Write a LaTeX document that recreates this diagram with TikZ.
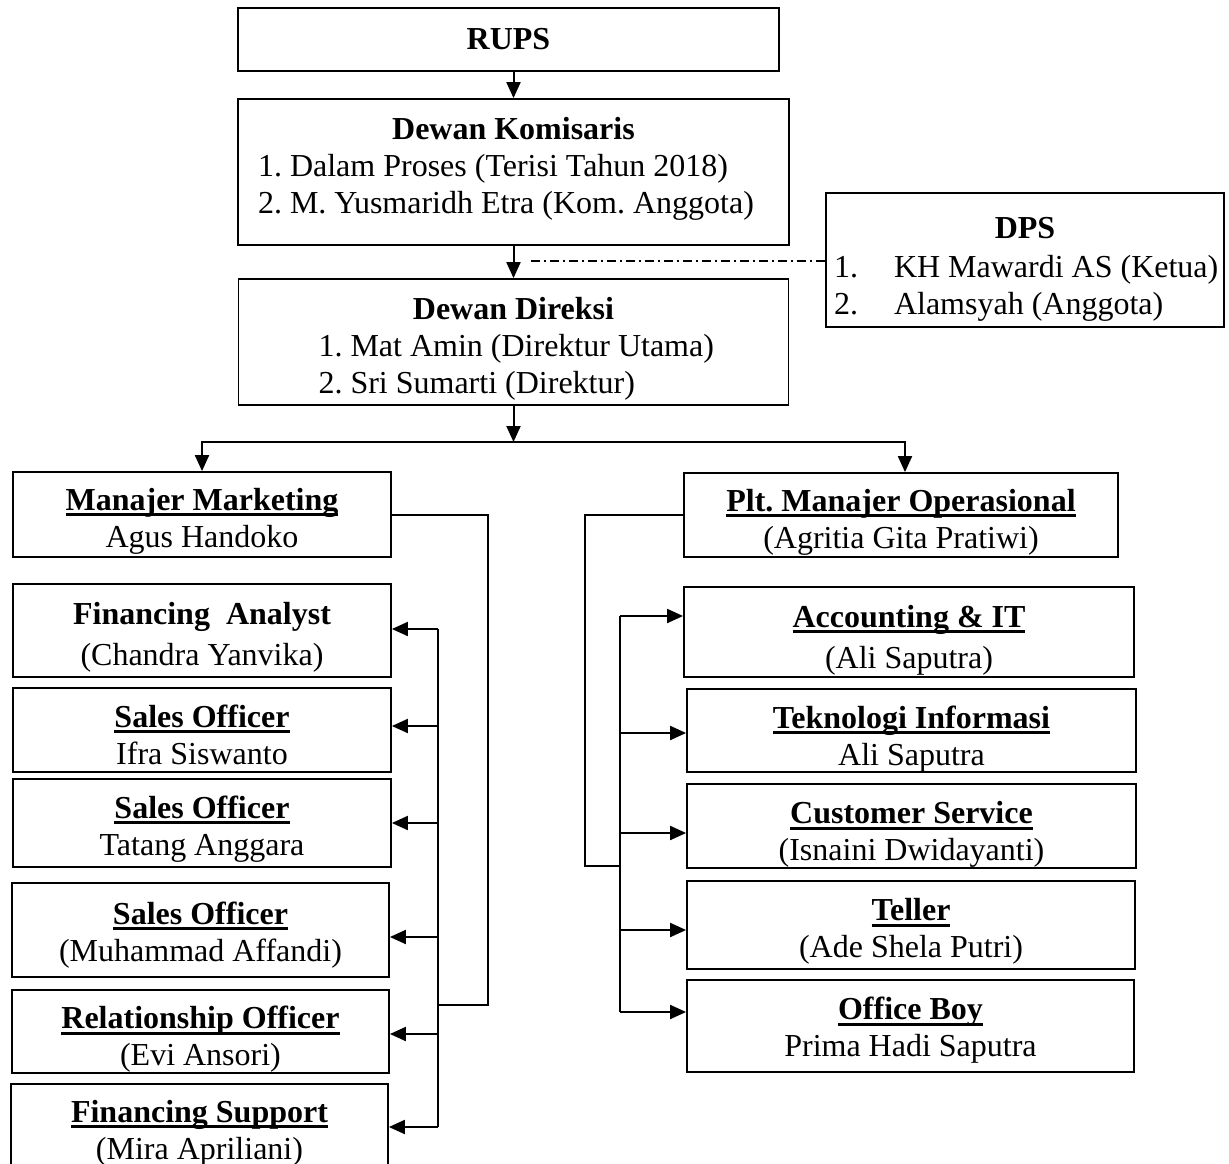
\documentclass[tikz,border=0pt]{standalone}
\usepackage{fontspec}
\setmainfont{Liberation Serif}
\usetikzlibrary{arrows.meta}
\frenchspacing

% garis bawah tebal untuk judul jabatan
\newcommand{\garis}[1]{{\setbox0=\hbox{#1}\rlap{\rule[-6pt]{\wd0}{2.6pt}}\box0}}

\tikzset{
  kotak/.style={draw, line width=1.8pt, inner sep=0pt, align=center,
    font=\fontsize{32}{37}\selectfont},
  dasar/.style={text height=#1, text depth=0pt},
  panah/.style={line width=2pt, -{Triangle[length=16pt,width=14pt]}},
  garisan/.style={line width=2pt},
  titiktitik/.style={line width=1.3pt, dash pattern=on 9pt off 4pt on 2pt off 4pt},
}

\begin{document}
\begin{tikzpicture}[x=1pt,y=-1pt]
  \useasboundingbox (0,0) rectangle (1229,1164);

  % pimpinan
  \node[kotak, dasar=19pt, minimum width=541pt, minimum height=63pt] (rups) at (508.5,39.5) {\textbf{RUPS}};
  \node[kotak, dasar=82pt, minimum width=551pt, minimum height=146pt] (kom) at (513.5,172)
    {\textbf{Dewan Komisaris}\\
     \makebox[511pt][l]{1. Dalam Proses (Terisi Tahun 2018)}\\
     \makebox[511pt][l]{2. M. Yusmaridh Etra (Kom. Anggota)}};
  \node[kotak, dasar=102pt, minimum width=550pt, minimum height=126pt] (dir) at (513.5,342)
    {\textbf{Dewan Direksi}\\
     \makebox[390pt][l]{1. Mat Amin (Direktur Utama)}\\
     \makebox[390pt][l]{2. Sri Sumarti (Direktur)}};
  \node[kotak, dasar=108pt, minimum width=398pt, minimum height=134pt] (dps) at (1025,260)
    {\textbf{DPS}\\[2pt]
     \makebox[382pt][l]{\makebox[60pt][l]{1.}KH Mawardi AS (Ketua)}\\
     \makebox[382pt][l]{\makebox[60pt][l]{2.}Alamsyah (Anggota)}};

  % bagian marketing
  \node[kotak, dasar=65pt, minimum width=378pt, minimum height=85pt] (mm) at (202,514.5)
    {\garis{\textbf{Manajer Marketing}}\\ Agus Handoko};
  \node[kotak, dasar=69pt, minimum width=378pt, minimum height=93pt] (fa) at (202,630.5)
    {\textbf{Financing\ \ Analyst}\\[4pt] (Chandra Yanvika)};
  \node[kotak, dasar=68pt, minimum width=378pt, minimum height=84pt] (so1) at (202,730)
    {\garis{\textbf{Sales Officer}}\\ Ifra Siswanto};
  \node[kotak, dasar=64pt, minimum width=378pt, minimum height=88pt] (so2) at (202,823)
    {\garis{\textbf{Sales Officer}}\\ Tatang Anggara};
  \node[kotak, dasar=62pt, minimum width=377pt, minimum height=94pt] (so3) at (200.5,930)
    {\garis{\textbf{Sales Officer}}\\ (Muhammad Affandi)};
  \node[kotak, dasar=68pt, minimum width=377pt, minimum height=83pt] (ro) at (200.5,1031.5)
    {\garis{\textbf{Relationship Officer}}\\ (Evi Ansori)};
  \node[kotak, dasar=54pt, minimum width=377pt, minimum height=96pt] (fs) at (199.5,1132)
    {\garis{\textbf{Financing Support}}\\ (Mira Apriliani)};

  % bagian operasional
  \node[kotak, dasar=66pt, minimum width=434pt, minimum height=84pt] (plt) at (901,515)
    {\garis{\textbf{Plt. Manajer Operasional}}\\ (Agritia Gita Pratiwi)};
  \node[kotak, dasar=72pt, minimum width=450pt, minimum height=90pt] (acc) at (909,632)
    {\garis{\textbf{Accounting \& IT}}\\[4pt] (Ali Saputra)};
  \node[kotak, dasar=69pt, minimum width=449pt, minimum height=83pt] (ti) at (911.5,730.5)
    {\garis{\textbf{Teknologi Informasi}}\\ Ali Saputra};
  \node[kotak, dasar=69pt, minimum width=449pt, minimum height=84pt] (cs) at (911.5,826)
    {\garis{\textbf{Customer Service}}\\ (Isnaini Dwidayanti)};
  \node[kotak, dasar=65pt, minimum width=448pt, minimum height=88pt] (tel) at (911,925)
    {\garis{\textbf{Teller}}\\ (Ade Shela Putri)};
  \node[kotak, dasar=61pt, minimum width=447pt, minimum height=92pt] (ob) at (910.5,1026)
    {\garis{\textbf{Office Boy}}\\ Prima Hadi Saputra};

  % garis komando atas
  \coordinate (cabang) at (513.5,442);
  \draw[panah] (kom.north |- rups.south) -- (kom.north);
  \draw[panah] (kom.south) -- (dir.north);
  \draw[titiktitik, shorten >=14pt] (dps.west |- 0,261) -- (kom.south |- 0,261);
  \draw[panah] (dir.south) -- (cabang);
  \draw[panah] (cabang) -| (mm.north);
  \draw[panah] (cabang) -| ([xshift=4pt]plt.north);

  % garis ke staf marketing
  \coordinate (mmBelok) at (488,1005);
  \coordinate (busKiri) at (438,1005);
  \draw[garisan] (mm.east) -| (mmBelok) -- (busKiri);
  \foreach \kotak/\y in {fa/629, so1/726, so2/823, so3/937, ro/1034, fs/1127} {
    \coordinate (k\kotak) at (438,\y);
    \draw[panah] (k\kotak) -- (\kotak.east |- k\kotak);
  }
  \draw[garisan] (kfa) -- (kfs);

  % garis ke staf operasional
  \coordinate (pltBelok) at (585,866);
  \foreach \kotak/\y in {acc/616, ti/733, cs/833, tel/930, ob/1012} {
    \coordinate (k\kotak) at (620,\y);
    \draw[panah] (k\kotak) -- (\kotak.west |- k\kotak);
  }
  \draw[garisan] (plt.west) -| (pltBelok) -- (pltBelok -| kacc);
  \draw[garisan] (kacc) -- (kob);
\end{tikzpicture}
\end{document}
